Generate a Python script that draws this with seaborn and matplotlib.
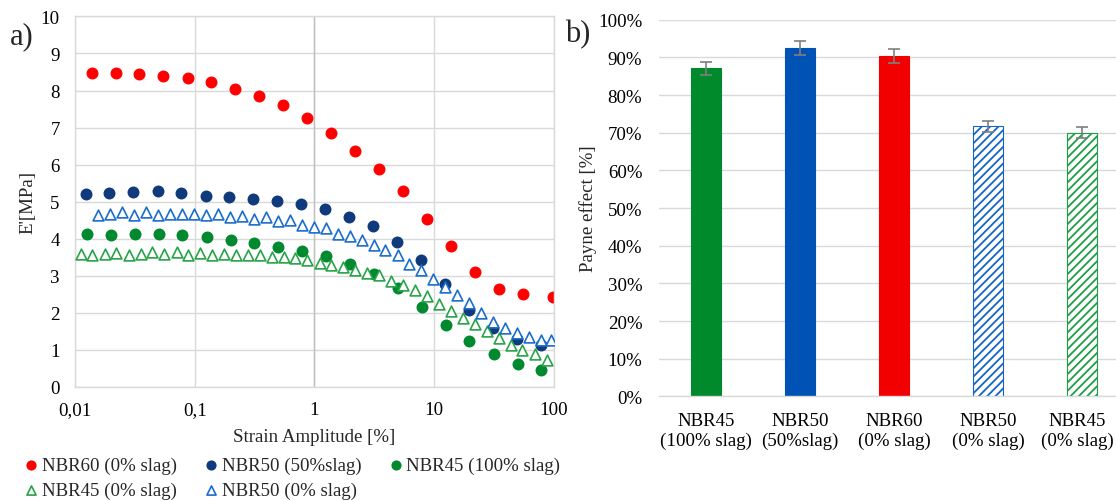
import matplotlib
matplotlib.use("Agg")
import matplotlib.pyplot as plt
from matplotlib.ticker import FuncFormatter
from matplotlib.transforms import ScaledTranslation
import seaborn as sns

# ---------------- a) storage modulus vs strain amplitude ----------------
nbr60_x = [0.0138, 0.0219, 0.0345, 0.0548, 0.0871, 0.137, 0.218, 0.347, 0.548, 0.871,
           1.37, 2.18, 3.44, 5.51, 8.69, 13.7, 21.8, 34.6, 55.6, 99.0]
nbr60_y = [8.48, 8.47, 8.44, 8.39, 8.34, 8.22, 8.05, 7.86, 7.60, 7.26,
           6.85, 6.38, 5.87, 5.30, 4.54, 3.80, 3.11, 2.64, 2.50, 2.44]

nbr50s_x = [0.0123, 0.0193, 0.0308, 0.0490, 0.0773, 0.123, 0.195, 0.308, 0.485, 0.776,
            1.22, 1.93, 3.09, 4.88, 7.69, 12.3, 19.6, 31.1, 49.4, 78.5]
nbr50s_y = [5.21, 5.24, 5.27, 5.28, 5.23, 5.15, 5.14, 5.07, 5.02, 4.93,
            4.81, 4.60, 4.34, 3.92, 3.44, 2.77, 2.09, 1.59, 1.30, 1.14]

nbr45s_x = [0.01265, 0.0200, 0.0317, 0.0500, 0.0789, 0.126, 0.199, 0.314, 0.496, 0.787,
            1.24, 1.97, 3.13, 4.94, 7.87, 12.5, 19.7, 31.3, 49.8, 78.5]
nbr45s_y = [4.14, 4.11, 4.12, 4.12, 4.09, 4.06, 3.96, 3.88, 3.79, 3.66,
            3.53, 3.31, 3.05, 2.66, 2.17, 1.68, 1.24, 0.88, 0.62, 0.46]

nbr45_x = [0.01112, 0.01396, 0.01766, 0.02218, 0.02809, 0.03529, 0.04434, 0.05569, 0.07046, 0.0885,
           0.1112, 0.1396, 0.1754, 0.2203, 0.2767, 0.3499, 0.4395, 0.5520, 0.6934, 0.8710,
           1.102, 1.384, 1.738, 2.183, 2.761, 3.468, 4.356, 5.509, 6.920, 8.692,
           10.92, 13.81, 17.34, 21.78, 27.36, 34.60, 43.46, 54.58, 69.02, 86.7]
nbr45_y = [3.60, 3.57, 3.60, 3.62, 3.55, 3.59, 3.64, 3.59, 3.64, 3.57,
           3.62, 3.57, 3.59, 3.55, 3.55, 3.55, 3.51, 3.51, 3.48, 3.44,
           3.35, 3.30, 3.24, 3.17, 3.08, 3.01, 2.85, 2.75, 2.61, 2.45,
           2.25, 2.05, 1.87, 1.71, 1.50, 1.32, 1.14, 1.01, 0.88, 0.74]

nbr50_x = [0.01556, 0.01954, 0.02472, 0.03126, 0.03926, 0.04932, 0.06237, 0.07834, 0.09907, 0.1245,
           0.1564, 0.1978, 0.2484, 0.3120, 0.3946, 0.4957, 0.6227, 0.7874, 0.989, 1.242,
           1.560, 1.973, 2.478, 3.113, 3.910, 4.945, 6.211, 7.812, 9.80, 12.41,
           15.59, 19.59, 24.6, 31.1, 39.1, 49.1, 62.1, 78.0, 95.1]
nbr50_y = [4.63, 4.68, 4.73, 4.65, 4.72, 4.64, 4.67, 4.66, 4.68, 4.63,
           4.67, 4.60, 4.62, 4.54, 4.59, 4.47, 4.50, 4.36, 4.32, 4.29,
           4.14, 4.07, 3.98, 3.82, 3.69, 3.55, 3.33, 3.15, 2.92, 2.70,
           2.47, 2.27, 2.00, 1.75, 1.59, 1.46, 1.35, 1.28, 1.28]

strain_ticks = [0.01, 0.1, 1, 10, 100]
strain_labels = ["0,01", "0,1", "1", "10", "100"]

# ---------------- b) Payne effect ----------------
payne_labels = ["NBR45\n(100% slag)", "NBR50\n(50%slag)", "NBR60\n(0% slag)",
                "NBR50\n(0% slag)", "NBR45\n(0% slag)"]
payne_values = [87.1, 92.4, 90.3, 71.7, 70.0]
payne_errors = [1.8, 1.9, 1.85, 1.4, 1.4]

sns.set_style("white")
plt.rcParams["font.family"] = ["Liberation Serif", "DejaVu Serif"]
plt.rcParams["hatch.linewidth"] = 1.3

GRID = "#D9D9D9"
FS = 13.6

fig = plt.figure(figsize=(11.16, 5.02), dpi=100)
ax1 = fig.add_axes([0.0672, 0.2271, 0.4292, 0.7382])
ax2 = fig.add_axes([0.5905, 0.2082, 0.4095, 0.7506])

# ---- left panel ----
ax1.set_xscale("log")
circle_series = [
    (nbr60_x, nbr60_y, "#FF0000", "NBR60 (0% slag)"),
    (nbr50s_x, nbr50s_y, "#0F3B7D", "NBR50 (50%slag)"),
    (nbr45s_x, nbr45s_y, "#00892F", "NBR45 (100% slag)"),
]
for xs, ys, col, lab in circle_series:
    sns.scatterplot(x=xs, y=ys, ax=ax1, color=col, marker="o", s=74,
                    linewidth=0, label=lab, legend=False, zorder=2)

triangle_series = [
    (nbr45_x, nbr45_y, "#27A348", "NBR45 (0% slag)"),
    (nbr50_x, nbr50_y, "#1A6DCC", "NBR50 (0% slag)"),
]
for xs, ys, col, lab in triangle_series:
    sns.scatterplot(x=xs, y=ys, ax=ax1, color="white", edgecolor=col, marker="^",
                    s=60, linewidth=1.2, label=lab, legend=False, zorder=3)

ax1.set_xlim(0.01, 100)
ax1.set_ylim(0, 10)
ax1.set_xticks(strain_ticks)
ax1.set_xticklabels(strain_labels)
ax1.xaxis.set_minor_locator(matplotlib.ticker.NullLocator())
ax1.set_yticks(range(0, 11))
ax1.set_axisbelow(True)
ax1.grid(True, which="major", color=GRID, linewidth=1)
ax1.axvline(1, color="#BFBFBF", linewidth=1, zorder=0.8)
for sp in ax1.spines.values():
    sp.set_color(GRID)
    sp.set_linewidth(1)
ax1.tick_params(axis="both", length=0, labelsize=FS, colors="black")
ax1.tick_params(axis="x", pad=10)
ax1.tick_params(axis="y", pad=11)
ax1.set_xlabel("Strain Amplitude [%]", fontsize=FS, labelpad=7)
ax1.set_ylabel("E'[MPa]", fontsize=FS, labelpad=3)

handles, labels = ax1.get_legend_handles_labels()
order = ["NBR60 (0% slag)", "NBR45 (0% slag)", "NBR50 (50%slag)",
         "NBR50 (0% slag)", "NBR45 (100% slag)"]
hmap = dict(zip(labels, handles))
fig.legend([hmap[k] for k in order], order, ncol=3, loc="upper left",
           bbox_to_anchor=(0.023, 0.088), frameon=False, fontsize=FS,
           handlelength=0.6, handletextpad=0.25, columnspacing=1.53,
           labelspacing=0.38, borderpad=0, borderaxespad=0,
           markerscale=0.85, scatterpoints=1)

# ---- right panel ----
bar_fill = ["#008A2B", "#0053B4", "#F20000", "white", "white"]
bar_edge = ["#008A2B", "#0053B4", "#F20000", "#1565C4", "#1E9E45"]
bar_hatch = [None, None, None, "////", "////"]

sns.barplot(x=payne_labels, y=payne_values, hue=payne_labels, palette=bar_fill,
            legend=False, saturation=1, width=0.314, ax=ax2, zorder=2)
for patch, fc, ec, h in zip(ax2.patches, bar_fill, bar_edge, bar_hatch):
    patch.set_facecolor(fc)
    patch.set_edgecolor(ec)
    patch.set_linewidth(0.8)
    if h:
        patch.set_hatch(h)
ax2.errorbar(range(len(payne_values)), payne_values, yerr=payne_errors, fmt="none",
             ecolor="#7F7F7F", elinewidth=1.2, capsize=4, capthick=1.2, zorder=3)

ax2.set_xlim(-0.5, 4.36)
ax2.set_ylim(0, 100)
ax2.set_yticks(range(0, 101, 10))
ax2.yaxis.set_major_formatter(FuncFormatter(lambda v, p: f"{v:.0f}%"))
ax2.set_axisbelow(True)
ax2.grid(True, axis="y", color=GRID, linewidth=1)
ax2.grid(False, axis="x")
for side in ["left", "top", "right"]:
    ax2.spines[side].set_visible(False)
ax2.spines["bottom"].set_color(GRID)
ax2.spines["bottom"].set_linewidth(1)
ax2.tick_params(axis="both", length=0, labelsize=FS, colors="black")
ax2.tick_params(axis="x", pad=11)
ax2.tick_params(axis="y", pad=12)
ax2.set_xlabel("")
ax2.set_ylabel("Payne effect [%]", fontsize=FS, labelpad=1)

# keep the last category label inside the figure edge
last_lbl = ax2.get_xticklabels()[-1]
last_lbl.set_transform(last_lbl.get_transform() +
                       ScaledTranslation(-5 / 100, 0, fig.dpi_scale_trans))

fig.text(0.009, 0.927, "a)", fontsize=22, ha="left", va="center")
fig.text(0.506, 0.932, "b)", fontsize=22, ha="left", va="center")

fig.savefig("out.png", dpi=100)
